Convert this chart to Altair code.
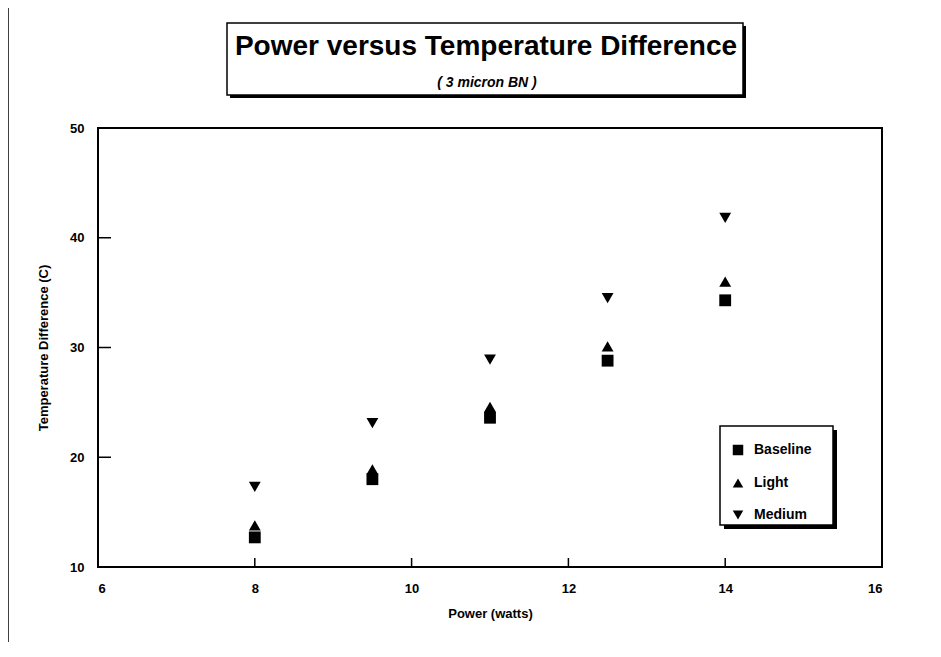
import altair as alt
import pandas as pd

# ---- data ----
power = [8, 9.5, 11, 12.5, 14]
baseline = [12.7, 18.0, 23.6, 28.8, 34.3]
light = [13.8, 18.9, 24.6, 30.1, 36.0]
medium = [17.3, 23.1, 28.9, 34.5, 41.8]
series = ["Baseline", "Light", "Medium"]
shapes = ["square", "triangle-up", "triangle-down"]
x_ticks = [6, 8, 10, 12, 14, 16]
y_ticks = [10, 20, 30, 40, 50]
x_inner_ticks = [8, 10, 12, 14]
y_inner_ticks = [20, 30, 40]
title_text = "Power versus Temperature Difference"
subtitle_text = "( 3 micron BN )"

rows = []
for name, vals in zip(series, [baseline, light, medium]):
    for p, v in zip(power, vals):
        rows.append({"Power": p, "Temp": v, "Series": name})
df = pd.DataFrame(rows)
one = pd.DataFrame({"k": [0]})

W, H = 784, 439
FONT = "Liberation Sans"

xscale = alt.Scale(domain=[6, 16], nice=False, zero=False)
yscale = alt.Scale(domain=[10, 50], nice=False, zero=False)

x_axis = alt.Axis(values=x_ticks, title="Power (watts)", ticks=False, tickSize=0,
                  labelPadding=15, domain=False, grid=False,
                  titleY=46, titleBaseline="middle")
y_axis = alt.Axis(values=y_ticks, title="Temperature Difference (C)", ticks=False,
                  tickSize=0, labelPadding=14, domain=False, grid=False,
                  titleX=-55, titleY=H / 2, titleBaseline="middle")

# decoration: title box with drop shadow
title_shadow = alt.Chart(one).mark_rect(fill="black").encode(
    x=alt.value(132), x2=alt.value(648), y=alt.value(-102), y2=alt.value(-30)
)
title_box = alt.Chart(one).mark_rect(fill="white", stroke="black", strokeWidth=1.5).encode(
    x=alt.value(129), x2=alt.value(645), y=alt.value(-105), y2=alt.value(-33)
)
title_mark = alt.Chart(one).mark_text(
    text=title_text, font=FONT, fontSize=28, fontWeight="bold", color="black",
    align="center", baseline="middle"
).encode(x=alt.value(388), y=alt.value(-81))
subtitle_mark = alt.Chart(one).mark_text(
    text=subtitle_text, font=FONT, fontSize=14, fontWeight="bold", fontStyle="italic",
    color="black", align="center", baseline="middle"
).encode(x=alt.value(389), y=alt.value(-45))

# decoration: legend box with drop shadow
legend_shadow = alt.Chart(one).mark_rect(fill="black").encode(
    x=alt.value(626), x2=alt.value(739), y=alt.value(302), y2=alt.value(401)
)
legend_box = alt.Chart(one).mark_rect(fill="white", stroke="black", strokeWidth=1.5).encode(
    x=alt.value(622), x2=alt.value(735), y=alt.value(298), y2=alt.value(397)
)
page_border = alt.Chart(one).mark_rule(color="black", strokeWidth=1.5).encode(
    x=alt.value(-90), y=alt.value(-125), y2=alt.value(520)
)

# inward ticks
y_tick_marks = alt.Chart(pd.DataFrame({"Temp": y_inner_ticks})).mark_rule(
    color="black", strokeWidth=1.5
).encode(
    y=alt.Y("Temp:Q", scale=yscale, axis=y_axis),
    x=alt.value(0), x2=alt.value(13),
)
x_tick_marks = alt.Chart(pd.DataFrame({"Power": x_inner_ticks})).mark_rule(
    color="black", strokeWidth=1.5
).encode(
    x=alt.X("Power:Q", scale=xscale, axis=x_axis),
    y=alt.value(H), y2=alt.value(H - 9),
)

points = alt.Chart(df).mark_point(filled=True, opacity=1, size=140).encode(
    x=alt.X("Power:Q", scale=xscale, axis=x_axis),
    y=alt.Y("Temp:Q", scale=yscale, axis=y_axis),
    shape=alt.Shape("Series:N", scale=alt.Scale(domain=series, range=shapes),
                    legend=alt.Legend(title=None, orient="none", legendX=633, legendY=315,
                                      padding=0, labelOffset=9,
                                      labelFont=FONT, labelFontSize=14, labelFontWeight="bold",
                                      labelColor="black", symbolSize=110, rowPadding=16,
                                      symbolFillColor="black", symbolStrokeColor="black")),
    color=alt.value("black"),
)

chart = alt.layer(
    page_border, title_shadow, title_box, title_mark, subtitle_mark,
    legend_shadow, legend_box, y_tick_marks, x_tick_marks, points
).properties(
    width=W, height=H,
    background="white",
    autosize=alt.AutoSizeParams(type="none"),
    padding={"left": 90, "top": 120, "right": 51, "bottom": 75},
).configure_view(
    stroke="black", strokeWidth=2
).configure_axis(
    labelFont=FONT, labelFontSize=13, labelFontWeight="bold", labelColor="black",
    titleFont=FONT, titleFontSize=13, titleFontWeight="bold", titleColor="black",
)

chart.save("out.html", embed_options={"renderer": "svg", "actions": False})
